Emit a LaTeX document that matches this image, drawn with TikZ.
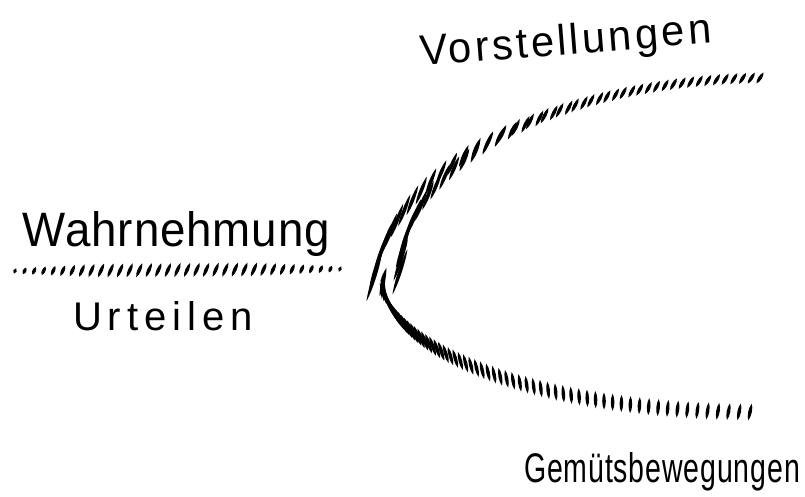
\documentclass[tikz,border=0pt]{standalone}
\usepackage{fontspec}
\setmainfont{Liberation Sans}
\usepackage{graphicx}

% one tapered hatch stroke at (#1,#2); angle and length from \hkAngle, \hkLen (functions of \hkF)
\newcommand\hkStroke[2]{%
  \pgfmathsetmacro\hkA{\hkAngle}%
  \pgfmathsetmacro\hkL{\hkLen}%
  \pgfmathsetmacro\hkQ{\hkL/4}%
  \fill[black, shift={(#1,#2)}, rotate=\hkA] (-\hkL/2,0) .. controls (-\hkQ,\hkW) and (\hkQ,\hkW) .. (\hkL/2,0) .. controls (\hkQ,-\hkW) and (-\hkQ,-\hkW) .. cycle;%
}
% hatch strokes along a cubic Bezier curve, N+1 strokes
\newcommand\hkBez[9]{%
  \foreach \hkI in {0,...,#9}{%
    \pgfmathsetmacro\hkF{\hkI/#9}%
    \pgfmathsetmacro\hkX{(1-\hkF)^3*#1+3*(1-\hkF)^2*\hkF*#3+3*(1-\hkF)*\hkF^2*#5+\hkF^3*#7+\hkJit}%
    \pgfmathsetmacro\hkY{(1-\hkF)^3*#2+3*(1-\hkF)^2*\hkF*#4+3*(1-\hkF)*\hkF^2*#6+\hkF^3*#8}%
    \hkStroke{\hkX}{\hkY}%
  }%
}
\newcommand\handtxt[4]{\resizebox{#1}{#2}{\addfontfeatures{LetterSpace=#3}#4}}

\tikzset{
  lbl/.style={anchor=base west, inner sep=0pt, outer sep=0pt, text=black},
}

\begin{document}
\begin{tikzpicture}[x=1pt, y=-1pt]
  \fill[white] (0,0) rectangle (805,497);
  \useasboundingbox (0,0) rectangle (805,497);

  % labels
  \node[lbl] (wahr) at (23,246) {\handtxt{307pt}{35pt}{2}{Wahrnehmung}};
  \node[lbl] (urt) at (73,330) {\handtxt{180pt}{29pt}{15}{Urteilen}};
  \node[lbl, rotate=4.5] (vor) at (421,66) {\handtxt{292pt}{31pt}{8}{Vorstellungen}};
  \node[lbl] (gem) at (524,482) {\handtxt{276pt}{30pt}{3}{Gemütsbewegungen}};

  \def\hkW{2.4}

  % horizontal hatched line under "Wahrnehmung"
  \def\hkAngle{66}
  \def\hkLen{6+9*min(1,4*min(\hkF,1-\hkF))}
  \foreach \hkI in {0,...,34}{%
    \pgfmathsetmacro\hkF{\hkI/34}%
    \pgfmathsetmacro\hkX{15+325*\hkF}%
    \pgfmathsetmacro\hkY{271-2*\hkF}%
    \hkStroke{\hkX}{\hkY}%
  }

  % upper arc of the C
  \def\hkAngle{57+15*\hkF}
  \def\hkLen{13+36*pow(\hkF,2.5)}
  \def\hkJit{13*pow(\hkF,3)*(2*mod(\hkI,2)-1)+4*pow(\hkF,6)}
  \hkBez{760}{78}{580}{80}{400}{150}{383}{278}{62}

  % lower arc of the C
  \def\hkAngle{117-39*pow(\hkF,1.5)-40*max(0,1-\hkF/0.08)}
  \def\hkLen{17+12*pow(1-\hkF,3)}
  \def\hkJit{0}
  \hkBez{383}{282}{383}{340}{510}{410}{750}{412}{66}
\end{tikzpicture}
\end{document}
